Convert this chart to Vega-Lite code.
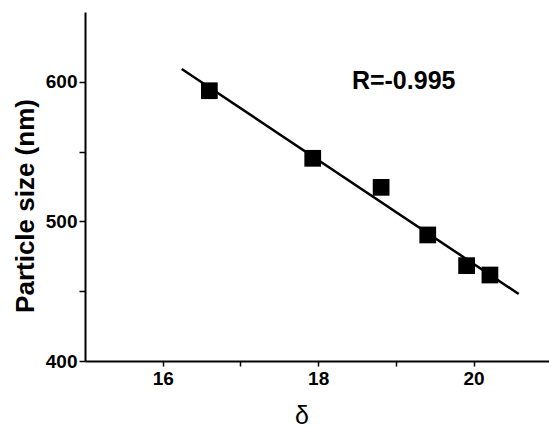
{
  "$schema": "https://vega.github.io/schema/vega-lite/v6.json",
  "width": 464,
  "height": 349,
  "autosize": "none",
  "padding": {"left": 85, "top": 12, "right": 0, "bottom": 67},
  "background": "white",
  "config": {
    "view": {"stroke": null},
    "font": "Liberation Sans",
    "axis": {
      "domainColor": "black",
      "domainWidth": 2,
      "tickColor": "black",
      "tickWidth": 1.5,
      "labelColor": "black",
      "labelFont": "Liberation Sans",
      "labelFontWeight": "bold",
      "labelFontSize": 19,
      "titleColor": "black",
      "titleFont": "Liberation Sans",
      "titleFontWeight": "bold",
      "grid": false
    }
  },
  "datasets": {
    "fit": [
      {"delta": 16.245, "size": 609.2},
      {"delta": 20.58, "size": 448.0}
    ],
    "points": [
      {"delta": 16.60, "size": 593.6},
      {"delta": 17.93, "size": 545.2},
      {"delta": 18.81, "size": 524.4},
      {"delta": 19.41, "size": 490.3},
      {"delta": 19.91, "size": 468.3},
      {"delta": 20.21, "size": 461.6}
    ],
    "label": [
      {"delta": 19.10, "size": 594.8, "text": "R=-0.995"}
    ]
  },
  "layer": [
    {
      "mark": {"type": "rule", "color": "black", "strokeWidth": 2},
      "encoding": {"y": {"datum": 650, "type": "quantitative"}}
    },
    {
      "data": {"name": "fit"},
      "mark": {"type": "line", "color": "black", "strokeWidth": 2.5},
      "encoding": {
        "x": {
          "field": "delta",
          "type": "quantitative",
          "scale": {"domain": [15, 20.97], "nice": false, "zero": false},
          "axis": {
            "values": [16, 17, 18, 19, 20],
            "format": "d",
            "labelExpr": "datum.value % 2 === 0 ? datum.label : ''",
            "labelFontWeight": "bold",
            "tickSize": 5,
            "labelPadding": 3,
            "title": "δ",
            "titleFontSize": 25,
            "titleFontWeight": "normal",
            "titleX": 216.5,
            "titleY": 62,
            "titleAlign": "center",
            "titleBaseline": "alphabetic",
            "encode": {"ticks": {"update": {"y2": {"signal": "datum.value % 2 === 0 ? 5 : -5"}}}}
          }
        },
        "y": {
          "field": "size",
          "type": "quantitative",
          "scale": {"domain": [400, 650], "nice": false, "zero": false},
          "axis": {
            "values": [400, 450, 500, 550, 600],
            "format": "d",
            "labelExpr": "datum.value % 100 === 0 ? datum.label : ''",
            "labelFontWeight": "bold",
            "tickSize": 6,
            "labelPadding": 2,
            "title": "Particle size (nm)",
            "titleFontSize": 26,
            "titleX": -52,
            "titleY": 193.5,
            "titleAngle": -90,
            "titleAlign": "center",
            "titleBaseline": "alphabetic",
            "encode": {"ticks": {"update": {"x2": {"signal": "datum.value % 100 === 0 ? -6 : 5"}}}}
          }
        }
      }
    },
    {
      "data": {"name": "points"},
      "mark": {"type": "point", "shape": "square", "filled": true, "color": "black", "size": 280, "opacity": 1},
      "encoding": {
        "x": {"field": "delta", "type": "quantitative"},
        "y": {"field": "size", "type": "quantitative"}
      }
    },
    {
      "data": {"name": "label"},
      "mark": {"type": "text", "font": "Liberation Sans", "fontWeight": "bold", "fontSize": 25, "align": "center", "baseline": "alphabetic", "color": "black"},
      "encoding": {
        "x": {"field": "delta", "type": "quantitative"},
        "y": {"field": "size", "type": "quantitative"},
        "text": {"field": "text"}
      }
    }
  ]
}
